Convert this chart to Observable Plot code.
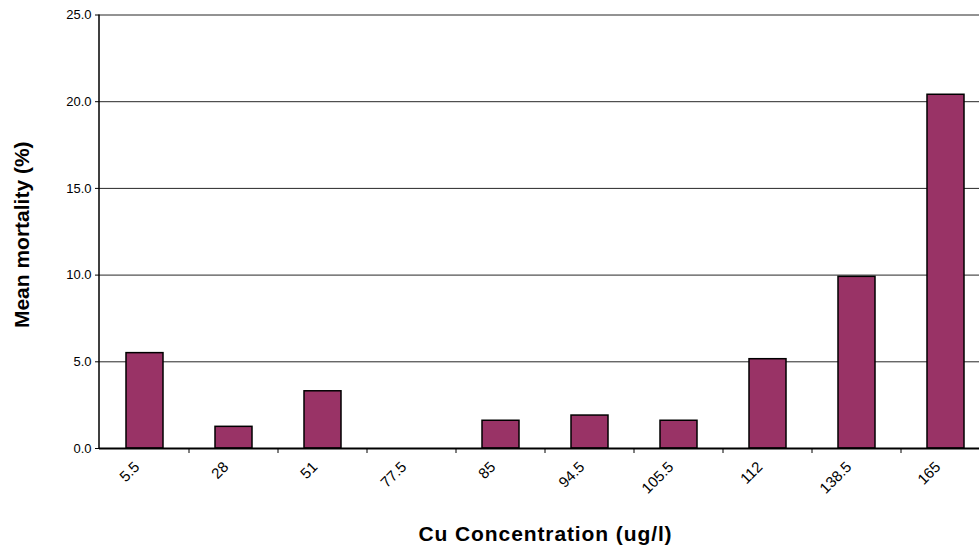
<!DOCTYPE html>
<html>
<head>
<meta charset="utf-8">
<script src="https://cdn.jsdelivr.net/npm/d3@7"></script>
<script src="https://cdn.jsdelivr.net/npm/@observablehq/plot@0.6"></script>
<style>
  html, body { margin: 0; padding: 0; background: #fff; }
  #chart { width: 979px; height: 555px; overflow: hidden; }
</style>
</head>
<body>
<div id="chart"></div>
<script>
const categories = ["5.5", "28", "51", "77.5", "85", "94.5", "105.5", "112", "138.5", "165"];
const mortality = [5.5, 1.25, 3.3, 0, 1.6, 1.9, 1.6, 5.15, 9.9, 20.4];
const yTicks = [0, 5, 10, 15, 20, 25];
const xTitle = "Cu Concentration (ug/l)";
const yTitle = "Mean mortality (%)";

const data = categories.map((c, i) => ({conc: c, value: mortality[i]}));
const font = "'Liberation Sans', Arial, sans-serif";

function frameLines(index, scales, values, dimensions) {
  const sx = scales.x, sy = scales.y;
  const bw = typeof sx.bandwidth === "function" ? sx.bandwidth() : 0;
  const g = d3.create("svg:g");
  const y0 = sy(0), yTop = sy(d3.max(yTicks));
  const left = dimensions.marginLeft;
  // category boundary ticks below the x axis
  for (let i = 0; i < categories.length - 1; i++) {
    const b = (sx(categories[i]) + bw + sx(categories[i + 1])) / 2;
    g.append("line").attr("x1", b).attr("x2", b).attr("y1", y0).attr("y2", y0 + 5)
      .attr("stroke", "#000").attr("stroke-width", 1);
  }
  // left axis line
  g.append("line").attr("x1", left).attr("x2", left).attr("y1", yTop).attr("y2", y0 + 1)
    .attr("stroke", "#000").attr("stroke-width", 1.5);
  return g.node();
}

const chart = Plot.plot({
  width: 979,
  height: 555,
  marginTop: 14.5,
  marginBottom: 107,
  marginLeft: 99,
  marginRight: -12,
  style: {fontFamily: font, background: "#fff", overflow: "visible"},
  x: {domain: categories, paddingInner: 0.585, paddingOuter: 0.2925, label: null},
  y: {domain: [0, 25], label: null},
  marks: [
    Plot.ruleY(yTicks.filter(d => d > 0), {stroke: "#000", strokeWidth: 1, strokeOpacity: 0.85}),
    Plot.barY(data, {x: "conc", y: "value", fill: "#993366", stroke: "#000", strokeWidth: 1.5}),
    Plot.ruleY([0], {stroke: "#000", strokeWidth: 2}),
    Plot.axisY({ticks: yTicks, tickFormat: d => d.toFixed(1), tickSize: 4, tickPadding: 4,
      fontSize: 13, label: null, stroke: "#000"}),
    Plot.axisX({tickRotate: -45, tickSize: 0, tickPadding: 16, fontSize: 15, label: null, dx: -8}),
    frameLines,
    Plot.text([xTitle], {frameAnchor: "bottom", dy: 92, fontSize: 21, fontWeight: "bold", fill: "#000"}),
    Plot.text([yTitle], {frameAnchor: "left", textAnchor: "middle", dx: -77, dy: 3, rotate: -90,
      fontSize: 21, fontWeight: "bold", fill: "#000"})
  ]
});
chart.querySelectorAll("text").forEach(t => {
  if (t.textContent === xTitle) t.style.letterSpacing = "0.9px";
});
document.getElementById("chart").appendChild(chart);
</script>
</body>
</html>
